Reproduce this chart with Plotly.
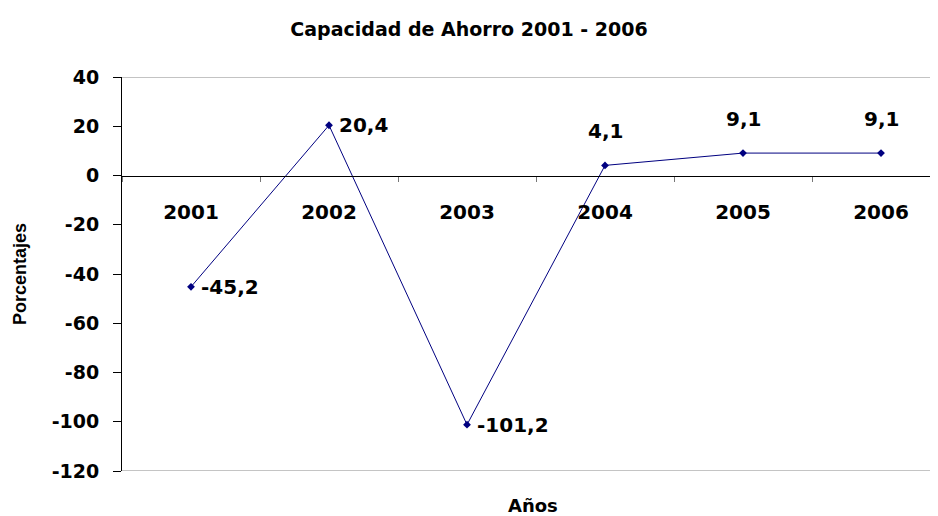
import plotly.graph_objects as go

years = ["2001", "2002", "2003", "2004", "2005", "2006"]
values = [-45.2, 20.4, -101.2, 4.1, 9.1, 9.1]
label_pos = ["right", "right", "right", "top", "top", "top"]
y_ticks = [40, 20, 0, -20, -40, -60, -80, -100, -120]

wide_font = "DejaVu Sans, Verdana, sans-serif"
arial = "Arial, Liberation Sans, sans-serif"

fig = go.Figure()
fig.add_trace(go.Scatter(
    x=years,
    y=values,
    mode="lines+markers",
    line=dict(color="#000080", width=1),
    marker=dict(symbol="diamond", size=6, color="#000080"),
    hoverinfo="skip",
))

# data labels, comma as decimal separator (x given as category index)
for i, (v, pos) in enumerate(zip(values, label_pos)):
    txt = f"{v:.1f}".replace(".", ",")
    if pos == "right":
        fig.add_annotation(x=i, y=v, xref="x", yref="y", text=txt, showarrow=False,
                           xanchor="left", yanchor="middle", xshift=8, yshift=0)
    else:
        fig.add_annotation(x=i, y=v, xref="x", yref="y", text=txt, showarrow=False,
                           xanchor="center", yanchor="bottom", yshift=20)

# grey border lines at top and bottom of plot
for yv in (40, -120):
    fig.add_shape(type="line", xref="paper", yref="y", x0=0, x1=1, y0=yv, y1=yv,
                  line=dict(color="#888888", width=1))

fig.update_layout(
    width=930,
    height=508,
    plot_bgcolor="white",
    paper_bgcolor="white",
    showlegend=False,
    margin=dict(l=114, r=0, t=69, b=45),
    font=dict(family=wide_font, size=20, color="black", weight="bold"),
    title=dict(text="Capacidad de Ahorro 2001 - 2006", x=0.4957, xref="container",
               y=0.957, yref="container", xanchor="center", yanchor="middle",
               font=dict(size=19, family=wide_font, color="black", weight="bold")),
    xaxis=dict(
        type="category",
        range=[-0.5, 5.413],
        anchor="free",
        position=0.75,
        showline=True,
        linecolor="black",
        linewidth=1,
        ticks="outside",
        tickson="boundaries",
        ticklen=5,
        tickcolor="#777777",
        showgrid=False,
        tickfont=dict(size=20, family=wide_font, color="black", weight="bold"),
        ticklabelstandoff=18,
        fixedrange=True,
    ),
    yaxis=dict(
        range=[-120, 40],
        tickvals=y_ticks,
        ticktext=[str(t) for t in y_ticks],
        showline=True,
        linecolor="black",
        linewidth=1,
        ticks="outside",
        ticklen=8,
        tickcolor="black",
        showgrid=False,
        zeroline=False,
        tickfont=dict(size=19, family=wide_font, color="black", weight="bold"),
        ticklabelstandoff=10,
        title=dict(text="Porcentajes", standoff=20,
                   font=dict(size=18, family=arial, color="black", weight="bold")),
        fixedrange=True,
    ),
)

fig.add_annotation(text="Años", xref="paper", yref="paper", x=0.504, y=-0.0863,
                   showarrow=False, xanchor="center", yanchor="middle",
                   font=dict(size=18, family=wide_font, color="black", weight="bold"))

fig.write_html("out.html")
